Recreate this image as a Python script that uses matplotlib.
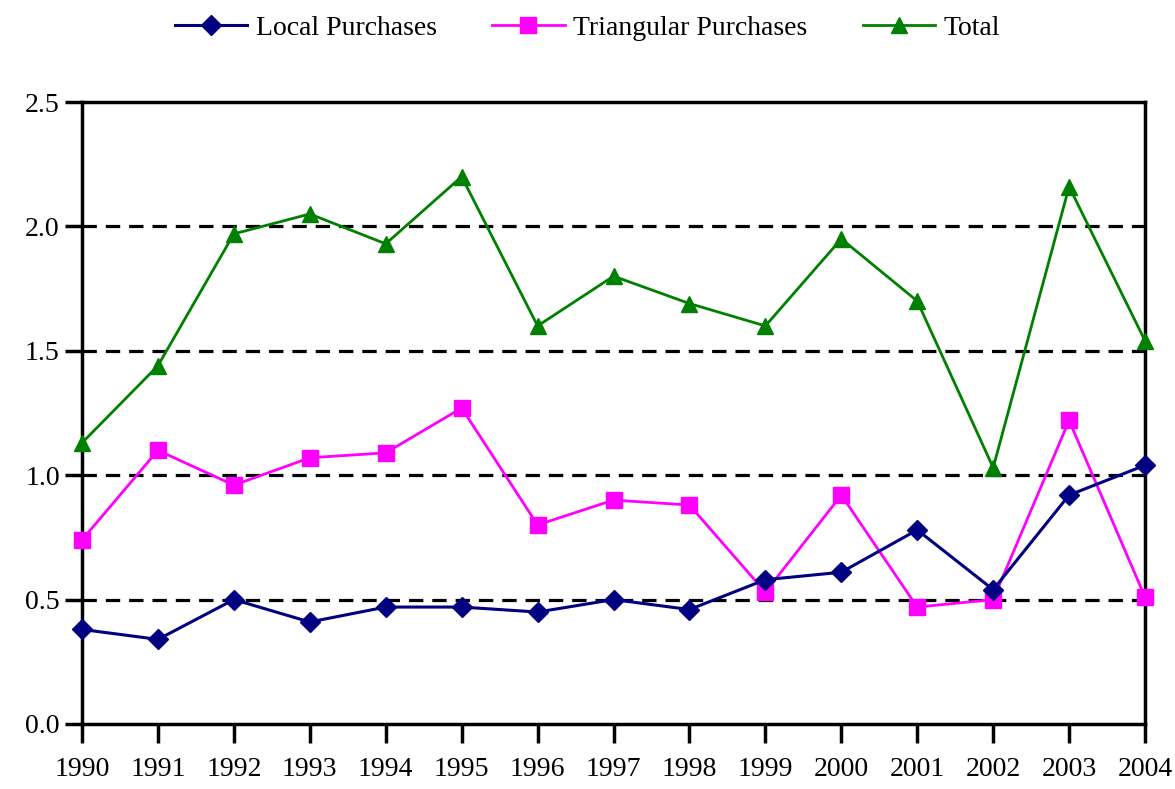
import matplotlib.pyplot as plt

years = list(range(1990, 2005))
local = [0.38, 0.34, 0.50, 0.41, 0.47, 0.47, 0.45, 0.50, 0.46, 0.58, 0.61, 0.78, 0.54, 0.92, 1.04]
triangular = [0.74, 1.10, 0.96, 1.07, 1.09, 1.27, 0.80, 0.90, 0.88, 0.53, 0.92, 0.47, 0.50, 1.22, 0.51]
total = [1.13, 1.44, 1.97, 2.05, 1.93, 2.20, 1.60, 1.80, 1.69, 1.60, 1.95, 1.70, 1.03, 2.16, 1.54]
y_ticks = [0.0, 0.5, 1.0, 1.5, 2.0, 2.5]

plt.rcParams['font.family'] = ['Liberation Serif', 'DejaVu Serif']

fig = plt.figure(figsize=(11.75, 7.89), dpi=100)
ax = fig.add_axes([0.0698, 0.0824, 0.9047, 0.7883])

# dashed gridlines
for v in [0.5, 1.0, 1.5, 2.0]:
    ax.axhline(v, color='black', lw=2.3, ls=(0, (4.5, 2.8)), zorder=1)

ax.plot(years, local, color='#000080', lw=2.2, marker='D', ms=10.5, label='Local Purchases', clip_on=False, zorder=4)
ax.plot(years, triangular, color='#FF00FF', lw=2, marker='s', ms=11, label='Triangular Purchases', clip_on=False, zorder=3)
ax.plot(years, total, color='#008000', lw=2, marker='^', ms=12, label='Total', clip_on=False, zorder=3)

ax.set_xlim(1990, 2004)
ax.set_ylim(0, 2.5)
ax.set_xticks(years)
ax.set_xticklabels([str(y) for y in years])
ax.set_yticks(y_ticks)
ax.set_yticklabels(['%.1f' % v for v in y_ticks])

for s in ax.spines.values():
    s.set_linewidth(2.5)
ax.tick_params(axis='x', direction='out', length=14, width=2.5, labelsize=20, pad=10)
ax.tick_params(axis='y', direction='out', length=12, width=2.5, labelsize=20, pad=4)

fig.legend(loc='upper center', bbox_to_anchor=(0.5, 1.012), ncol=3, frameon=False,
           fontsize=20, handlelength=2.6, columnspacing=2.0, handletextpad=0.3)

fig.savefig('out.png', dpi=100)
